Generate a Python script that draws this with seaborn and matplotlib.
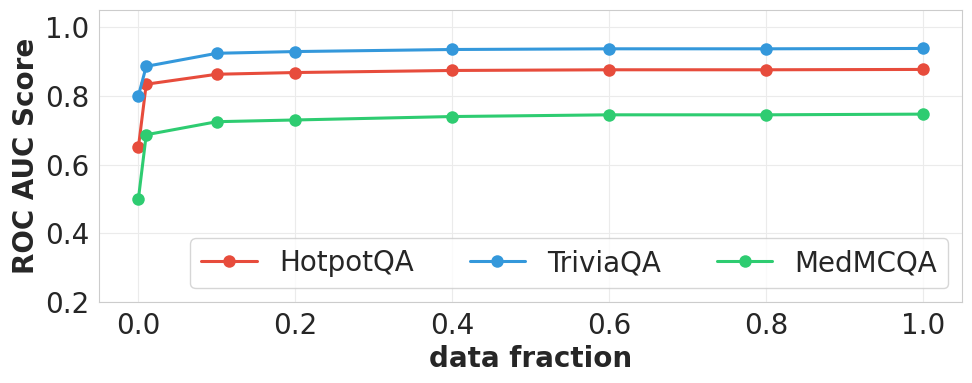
import numpy as np
import pandas as pd
import seaborn as sns
import matplotlib.pyplot as plt

fractions = [0.0, 0.01, 0.1, 0.2, 0.4, 0.6, 0.8, 1.0]
hotpotqa = [0.650, 0.834, 0.863, 0.868, 0.874, 0.876, 0.876, 0.877]
triviaqa = [0.800, 0.886, 0.924, 0.929, 0.935, 0.937, 0.937, 0.938]
medmcqa = [0.500, 0.687, 0.725, 0.730, 0.740, 0.745, 0.745, 0.747]

series = {'HotpotQA': hotpotqa, 'TriviaQA': triviaqa, 'MedMCQA': medmcqa}
colors = {'HotpotQA': '#e74c3c', 'TriviaQA': '#3498db', 'MedMCQA': '#2ecc71'}

df = pd.DataFrame([
    {'data fraction': f, 'score': v, 'dataset': name}
    for name, vals in series.items() for f, v in zip(fractions, vals)
])

sns.set_style('whitegrid')
plt.rcParams['font.family'] = ['DejaVu Sans']

fig, ax = plt.subplots(figsize=(9.72, 3.83), dpi=100)
sns.lineplot(data=df, x='data fraction', y='score', hue='dataset',
             palette=colors, marker='o', markersize=9, markeredgewidth=0,
             linewidth=2.2, ax=ax)

ax.set_ylim(0.2, 1.05)
ax.set_yticks([0.2, 0.4, 0.6, 0.8, 1.0])
ax.set_xticks([0.0, 0.2, 0.4, 0.6, 0.8, 1.0])
ax.tick_params(labelsize=20)
ax.set_xlabel('data fraction', fontsize=20, fontweight='bold')
ax.set_ylabel('ROC AUC Score', fontsize=20, fontweight='bold')
ax.grid(color='#ebebeb')
for s in ax.spines.values():
    s.set_color('#cccccc')

ax.legend(loc='lower right', ncol=3, fontsize=20, title=None)

fig.subplots_adjust(left=0.102, right=0.990, top=0.974, bottom=0.211)
fig.savefig('out.png', dpi=100)
